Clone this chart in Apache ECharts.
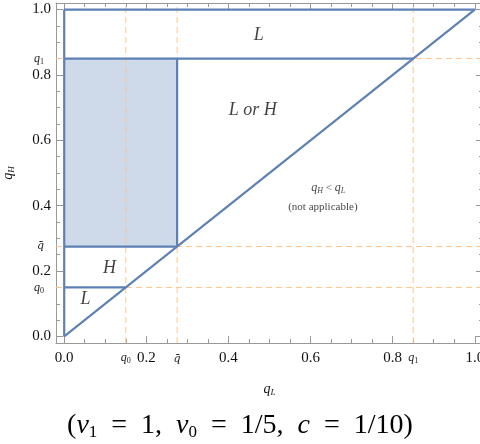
<!DOCTYPE html>
<html><head><meta charset="utf-8">
<script src="https://cdn.jsdelivr.net/npm/echarts@6/dist/echarts.min.js"></script>
<style>html,body{margin:0;padding:0;background:#fff}#c{width:480px;height:444px}</style>
</head><body><div id="c"></div>
<script>
const q0 = 0.15, qbar = 0.275, q1 = 0.85;
const majorTicks = [0, 0.2, 0.4, 0.6, 0.8, 1.0];
const majorLabels = ['0.0', '0.2', '0.4', '0.6', '0.8', '1.0'];
const minorTicks = [0.05,0.1,0.15,0.25,0.3,0.35,0.45,0.5,0.55,0.65,0.7,0.75,0.85,0.9,0.95];
const specialTicks = [q0, qbar, q1];
const specialLabels = ['{i|q}{s|0}', '{b|q\u0304}', '{i|q}{s|1}'];
const axisMin = -0.02, axisMax = 1.02;
const diag = [[0,0],[1,1]];
const leftEdge = [[0,0],[0,1]];
const topEdge = [[0,1],[1,1]];
const q1Line = [[0,q1],[q1,q1]];
const qbarLine = [[0,qbar],[qbar,qbar]];
const qbarVert = [[qbar,qbar],[qbar,q1]];
const q0Line = [[0,q0],[q0,q0]];
const regionLabels = [
  {pos:[0.474,0.92], text:'L', size:18},
  {pos:[0.459,0.692], text:'L or H', size:18},
  {pos:[0.11,0.21], text:'H', size:18},
  {pos:[0.052,0.113], text:'L', size:18}
];
const noteLabels = [
  {pos:[0.643,0.454], text:'{i|q}{s|H} < {i|q}{s|L}'},
  {pos:[0.63,0.396], text:'(not applicable)'}
];

const FONT = 'Liberation Serif';
const blue = '#5E81B5';
const orange = '#FFC58A';
const axisGray = '#999';
const richSmall = {
  i:{fontFamily:FONT, fontStyle:'italic', fontSize:12, color:'#222'},
  s:{fontFamily:FONT, fontSize:8, color:'#222', verticalAlign:'bottom', padding:[6,0,0,0]},
  b:{fontFamily:'DejaVu Serif', fontStyle:'italic', fontSize:11, color:'#222', lineHeight:16}
};
const richName = {
  i:{fontFamily:FONT, fontStyle:'italic', fontSize:14, color:'#111'},
  s:{fontFamily:FONT, fontStyle:'italic', fontSize:9, color:'#111', verticalAlign:'bottom', padding:[7,0,0,0]}
};
function specialFmt(v){
  for (let k=0;k<specialTicks.length;k++) if (Math.abs(v-specialTicks[k])<1e-6) return specialLabels[k];
  return '';
}
function majorFmt(v){
  for (let k=0;k<majorTicks.length;k++) if (Math.abs(v-majorTicks[k])<1e-6) return majorLabels[k];
  return '';
}
function xAx(extra){
  const o = Object.assign({type:'value', min:axisMin, max:axisMax}, extra);
  o.splitLine = {show:false};
  o.minorSplitLine = {show:false};
  o.axisLine = Object.assign({onZero:false}, extra.axisLine || {});
  return o;
}

const chart = echarts.init(document.getElementById('c'), null, {renderer:'canvas'});
function seg(data){
  return {type:'line', data:data, symbol:'none', lineStyle:{color:blue, width:2.2}, z:5, silent:true};
}
function dash(data){
  return {type:'line', data:data, symbol:'none', lineStyle:{color:orange, type:[6,4], width:1}, z:3, silent:true};
}
const dashSeries = specialTicks.map(v=>dash([[v,axisMin],[v,axisMax]]))
  .concat(specialTicks.map(v=>dash([[axisMin,v],[axisMax,v]])));
const E = '\u2002=\u2002';
const option = {
  animation:false,
  grid:{left:56, top:3, right:-3, bottom:101, outerBoundsMode:'none', containLabel:false},
  title:{
    text:'({i|v}{s|1}' + E + '1,\u2002{i|v}{s|0}' + E + '1/5,\u2002{i|c}' + E + '1/10)',
    left:'center', top:405,
    textStyle:{fontFamily:FONT, fontSize:28, fontWeight:'normal', color:'#000',
      rich:{i:{fontFamily:FONT, fontStyle:'italic', fontSize:28, color:'#000'},
            s:{fontFamily:FONT, fontSize:17, color:'#000', verticalAlign:'top', padding:[14,0,0,0]}}}
  },
  xAxis:[
    xAx({position:'bottom', axisLine:{show:true, lineStyle:{color:axisGray}},
      axisTick:{show:true, inside:true, length:7, customValues:majorTicks, lineStyle:{color:axisGray}},
      axisLabel:{customValues:majorTicks, formatter:majorFmt, fontFamily:FONT, fontSize:15, color:'#111', margin:8},
      name:'{i|q}{s|L}', nameLocation:'middle', nameGap:38,
      nameTextStyle:{rich:richName}}),
    xAx({position:'bottom', axisLine:{show:false},
      axisTick:{show:true, inside:true, length:4, customValues:minorTicks, lineStyle:{color:axisGray}},
      axisLabel:{customValues:specialTicks, formatter:specialFmt, margin:8, rich:richSmall}}),
    xAx({position:'top', axisLine:{show:true, lineStyle:{color:axisGray}},
      axisTick:{show:true, inside:true, length:7, customValues:majorTicks, lineStyle:{color:axisGray}},
      axisLabel:{show:false}}),
    xAx({position:'top', axisLine:{show:false},
      axisTick:{show:true, inside:true, length:4, customValues:minorTicks, lineStyle:{color:axisGray}},
      axisLabel:{show:false}})
  ],
  yAxis:[
    xAx({position:'left', axisLine:{show:true, lineStyle:{color:axisGray}},
      axisTick:{show:true, inside:true, length:7, customValues:majorTicks, lineStyle:{color:axisGray}},
      axisLabel:{customValues:majorTicks, formatter:majorFmt, fontFamily:FONT, fontSize:15, color:'#111', margin:5},
      name:'{i|q}{s|H}', nameLocation:'middle', nameGap:40, nameRotate:90,
      nameTextStyle:{rich:richName}}),
    xAx({position:'left', axisLine:{show:false},
      axisTick:{show:true, inside:true, length:4, customValues:minorTicks, lineStyle:{color:axisGray}},
      axisLabel:{customValues:specialTicks, formatter:specialFmt, margin:12, rich:richSmall}}),
    xAx({position:'right', axisLine:{show:true, lineStyle:{color:axisGray}},
      axisTick:{show:true, inside:true, length:7, customValues:majorTicks, lineStyle:{color:axisGray}},
      axisLabel:{show:false}}),
    xAx({position:'right', axisLine:{show:false},
      axisTick:{show:true, inside:true, length:4, customValues:minorTicks, lineStyle:{color:axisGray}},
      axisLabel:{show:false}})
  ],
  series:[
    {type:'line', data:[], symbol:'none', silent:true, z:2,
      markArea:{silent:true, itemStyle:{color:'rgba(94,129,181,0.3)'},
        data:[[{coord:[0,qbar]},{coord:[qbar,q1]}]]}
    }
  ].concat(dashSeries).concat([
    seg(diag), seg(leftEdge), seg(topEdge), seg(q1Line), seg(qbarLine), seg(qbarVert), seg(q0Line),
    {type:'scatter', symbolSize:0, silent:true, z:10,
      data:regionLabels.map(r=>({value:r.pos, label:{show:true, position:'inside', formatter:r.text,
        fontFamily:FONT, fontStyle:'italic', fontSize:r.size, color:'#111'}}))},
    {type:'scatter', symbolSize:0, silent:true, z:10,
      data:noteLabels.map(r=>({value:r.pos, label:{show:true, position:'inside', formatter:r.text,
        fontFamily:FONT, fontSize:11, color:'#111',
        rich:{i:{fontFamily:FONT, fontStyle:'italic', fontSize:12, color:'#111'},
              s:{fontFamily:FONT, fontStyle:'italic', fontSize:8, color:'#111', verticalAlign:'bottom', padding:[6,0,0,0]}}}}))}
  ])
};
chart.setOption(option);
</script></body></html>
